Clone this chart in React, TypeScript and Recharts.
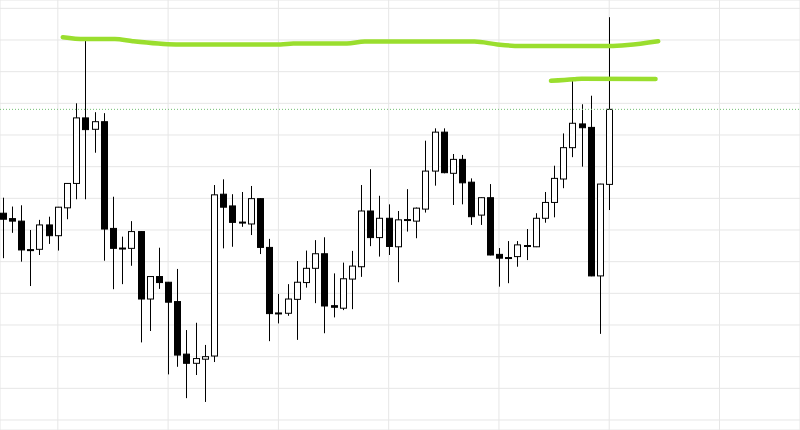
import React from 'react';
import { ComposedChart, Bar, Line, XAxis, YAxis, CartesianGrid, ReferenceLine } from 'recharts';

const opens = [75.3,73.6,72.8,63.8,63.9,71.6,68.2,77.0,84.7,105.4, 101.8,104.2,70.5,64.3,64.2,69.5,48.2,55.3,53.5,47.4, 30.8,27.9,29.2,30.2,81.3,77.6,72.5,71.9,79.9,64.5, 43.8,43.7,48.1,53.4,57.9,62.5,46.1,45.3,54.5,58.4, 76.0,67.6,73.7,64.7,73.2,72.8,76.6,88.6,100.9,87.9, 92.3,85.1,74.7,80.2,62.3,61.3,61.6,65.0,64.7,73.7, 78.7,86.1,96.0,103.5,102.4,55.5,84.4];
const highs = [80.2,77.4,77.8,70.0,73.2,74.2,77.3,84.8,110.0,130.0, 107.2,106.9,80.5,67.9,72.8,69.6,55.4,64.4,53.6,57.7, 38.4,40.7,33.7,84.2,86.0,81.3,82.0,83.9,80.0,67.2, 49.8,52.9,60.2,63.5,66.8,67.7,56.3,59.7,63.4,84.2, 89.2,80.8,78.1,76.0,82.9,77.1,98.2,102.1,102.1,94.0, 93.7,86.3,80.3,84.5,64.3,66.5,66.5,70.3,75.3,82.0, 90.3,100.5,117.1,109.7,112.4,84.6,137.2];
const lows = [61.1,69.1,60.0,52.3,62.1,65.6,63.5,73.4,79.7,79.7, 94.4,60.3,51.3,52.9,58.7,34.5,38.1,51.4,24.4,26.8, 16.9,24.2,15.7,28.3,64.2,64.7,71.0,68.4,62.4,34.9, 40.5,42.9,35.3,51.8,46.9,37.4,42.4,44.7,45.0,55.2, 64.9,61.6,62.1,53.5,69.5,67.4,75.5,84.0,87.9,77.9, 78.1,71.6,71.6,62.0,52.1,53.2,58.4,60.5,64.6,72.3, 74.0,83.2,93.0,90.0,55.4,37.2,76.3];
const closes = [73.4,72.8,63.7,63.6,71.6,68.2,77.2,84.7,105.4,101.7, 104.2,70.3,64.2,64.2,69.5,48.2,55.3,53.4,47.2,30.5, 27.9,29.4,30.0,81.1,77.2,72.4,72.3,79.9,64.5,43.6, 43.7,48.2,53.5,57.9,62.5,46.0,45.6,54.6,58.6,76.0, 67.6,73.7,64.8,73.2,73.3,76.9,88.6,100.9,88.1,92.3, 84.9,74.2,80.2,62.1,61.1,61.2,65.3,65.1,73.7,78.7, 86.3,96.0,103.7,102.3,55.5,84.5,108.1];

const trend1Idx = [6.54, 8.87, 12.2, 14.15, 18.86, 30.24, 31.63, 37.46, 39.4, 51.34, 53.83, 56.33, 66.05, 68.0, 71.33];
const trend1Val = [130.9, 130.3, 130.3, 129.6, 128.6, 128.6, 128.9, 128.9, 129.5, 129.5, 128.6, 128.1, 128.1, 128.4, 129.6];
const trend2Idx = [59.66, 62.17, 62.99, 71.04];
const trend2Val = [117.1, 117.6, 117.8, 117.7];

const levelValue = 108.1;
const priceTicks = [10, 20, 30, 40, 50, 60, 70, 80, 90, 100, 110, 120, 130, 140];
const timeTicks = [6, 18, 30, 42, 54, 66, 78];
const xDomain: [number, number] = [-0.294, 86.76];
const yDomain: [number, number] = [6.84, 142.63];

const candles = opens.map((o, i) => ({ i, o, h: highs[i], l: lows[i], c: closes[i] }));
const trend1 = trend1Idx.map((i, k) => ({ i, v: trend1Val[k] }));
const trend2 = trend2Idx.map((i, k) => ({ i, v: trend2Val[k] }));

const Candle = (props: any) => {
  const { x, y, width, height, payload } = props;
  if (!payload || height == null) return null;
  const { o, h, l, c } = payload;
  const cx = Math.round(x + width / 2);
  const range = h - l || 1;
  const toY = (v: number) => y + ((h - v) / range) * height;
  const top = toY(Math.max(o, c));
  const bot = toY(Math.min(o, c));
  const bh = Math.max(bot - top, 1);
  const bear = c < o;
  return (
    <g>
      <line x1={cx + 0.5} x2={cx + 0.5} y1={y} y2={y + height} stroke="#000" strokeWidth={1} />
      <rect x={cx - 2.5} y={top} width={6} height={bh} fill={bear ? '#000' : '#fff'} stroke="#000" strokeWidth={1} />
    </g>
  );
};

export default function App() {
  return (
    <div style={{ position: 'absolute', left: 0, top: 0, width: 800, height: 430, background: '#fff' }}>
      <ComposedChart width={800} height={430} data={candles} margin={{ top: 0, right: 0, bottom: 0, left: 0 }}>
        <CartesianGrid stroke="#e6e6e6" strokeWidth={1} />
        <XAxis type="number" dataKey="i" domain={xDomain} ticks={timeTicks} allowDataOverflow hide />
        <YAxis type="number" domain={yDomain} ticks={priceTicks} allowDataOverflow hide />
        <ReferenceLine y={levelValue} stroke="#6fbf6f" strokeDasharray="1 2" strokeWidth={1} />
        <Bar dataKey={(d: any) => [d.l, d.h]} barSize={6} shape={<Candle />} isAnimationActive={false} />
        <Line data={trend1} dataKey="v" type="monotone" stroke="#9ade2e" strokeWidth={4.5} strokeLinecap="round" dot={false} activeDot={false} isAnimationActive={false} />
        <Line data={trend2} dataKey="v" type="monotone" stroke="#9ade2e" strokeWidth={4.5} strokeLinecap="round" dot={false} activeDot={false} isAnimationActive={false} />
      </ComposedChart>
    </div>
  );
}
